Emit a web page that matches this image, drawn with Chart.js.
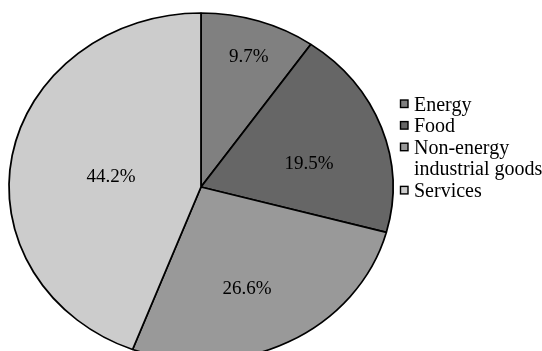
<!DOCTYPE html>
<html>
<head>
<meta charset="utf-8">
<script src="https://cdn.jsdelivr.net/npm/chart.js@4/dist/chart.umd.min.js"></script>
<style>
  html, body { margin: 0; padding: 0; overflow: hidden; background: #fff; width: 542px; height: 351px; }
  #wrap { position: relative; width: 542px; height: 351px; overflow: hidden; }
  canvas { display: block; }
</style>
</head>
<body>
<div id="wrap"><canvas id="c" width="542" height="400"></canvas></div>
<script>
// ---- data ----
const categories = ['Energy', 'Food', 'Non-energy industrial goods', 'Services'];
const shares = [9.7, 19.5, 26.6, 44.2];

// ---- styles ----
const sliceColors = ['#808080', '#666666', '#999999', '#cccccc'];
const FONT = '"Liberation Serif", "Times New Roman", serif';
const stretchX = 192 / 174;              // the pie is drawn as an ellipse
// label placement: [fraction of radius, angle nudge in degrees]
const labelPlacement = [[0.788, 1.0], [0.578, 6.8], [0.631, 4.7], [0.472, -3.4]];

const ellipsePlugin = {
  id: 'ellipse',
  beforeDatasetsDraw(chart) {
    const arc = chart.getDatasetMeta(0).data[0];
    const ctx = chart.ctx;
    ctx.save();
    ctx.translate(arc.x, arc.y);
    ctx.scale(stretchX, 1);
    ctx.translate(-arc.x, -arc.y);
  },
  afterDatasetsDraw(chart) {
    const ctx = chart.ctx;
    ctx.restore();
    // percentage labels
    const meta = chart.getDatasetMeta(0);
    ctx.save();
    ctx.font = '19px ' + FONT;
    ctx.fillStyle = '#000';
    ctx.textAlign = 'center';
    ctx.textBaseline = 'middle';
    meta.data.forEach((a, i) => {
      const [f, nudge] = labelPlacement[i];
      const mid = (a.startAngle + a.endAngle) / 2 + nudge * Math.PI / 180;
      const r = a.outerRadius * f;
      const x = a.x + Math.cos(mid) * r * stretchX;
      const y = a.y + Math.sin(mid) * r;
      ctx.fillText(shares[i].toFixed(1) + '%', x, y);
    });
    ctx.restore();
  }
};

const legendPlugin = {
  id: 'customLegend',
  afterDraw(chart) {
    const ctx = chart.ctx;
    ctx.save();
    ctx.font = '20px ' + FONT;
    ctx.textBaseline = 'alphabetic';
    ctx.textAlign = 'left';
    const boxX = 400.5, textX = 414, maxW = 130, lineH = 21.6;
    let baseline = 110.5;
    categories.forEach((cat, i) => {
      // word wrap
      const words = cat.split(' ');
      const lines = [];
      let cur = '';
      words.forEach(w => {
        const t = cur ? cur + ' ' + w : w;
        if (cur && ctx.measureText(t).width > maxW) { lines.push(cur); cur = w; }
        else cur = t;
      });
      lines.push(cur);
      ctx.fillStyle = sliceColors[i];
      ctx.fillRect(boxX, baseline - 10.5, 7.5, 7.5);
      ctx.strokeStyle = '#000';
      ctx.lineWidth = 1.4;
      ctx.strokeRect(boxX, baseline - 10.5, 7.5, 7.5);
      ctx.fillStyle = '#000';
      lines.forEach(l => { ctx.fillText(l, textX, baseline); baseline += lineH; });
    });
    ctx.restore();
  }
};

new Chart(document.getElementById('c'), {
  type: 'pie',
  data: {
    labels: categories,
    datasets: [{
      data: shares,
      backgroundColor: sliceColors,
      borderColor: '#000',
      borderWidth: 1.6,
      borderAlign: 'center',
      radius: 174
    }]
  },
  options: {
    responsive: false,
    animation: false,
    layout: { padding: { left: 0, right: 140, top: 0, bottom: 26 } },
    plugins: {
      legend: { display: false },
      tooltip: { enabled: false },
      title: { display: false }
    }
  },
  plugins: [ellipsePlugin, legendPlugin]
});
</script>
</body>
</html>
